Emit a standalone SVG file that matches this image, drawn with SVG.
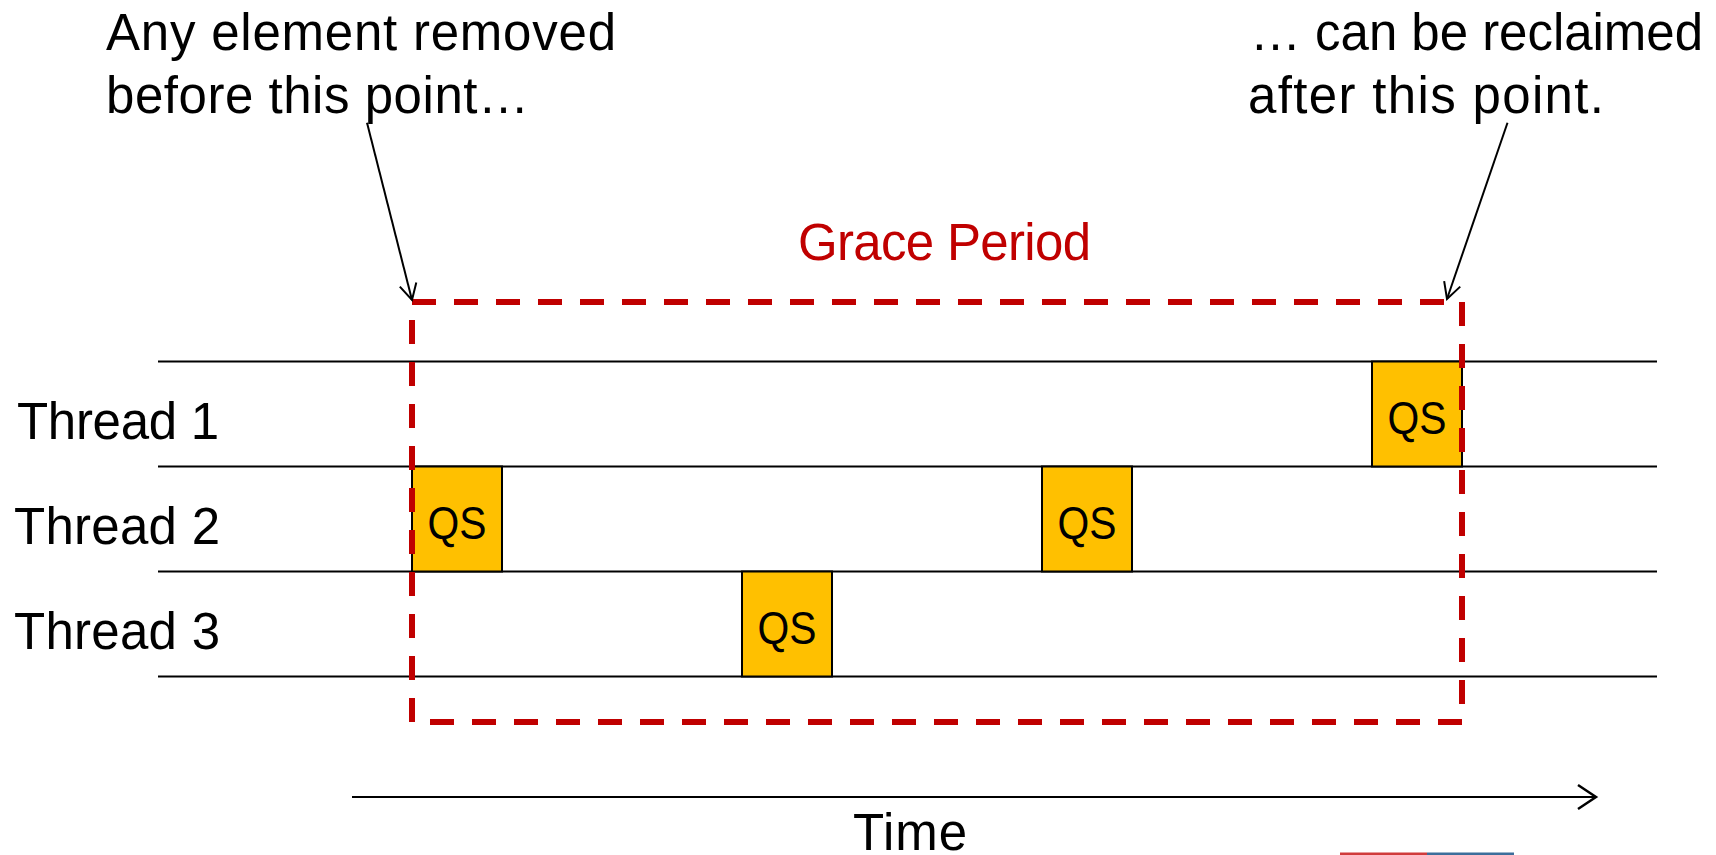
<svg xmlns="http://www.w3.org/2000/svg" width="1716" height="855" viewBox="0 0 1716 855">
  <style>
    .t { font-family: "Liberation Sans", Arial, sans-serif; font-size: 51px; fill: #000; }
    .red { fill: #C00000; }
    .lane { stroke: #000; stroke-width: 2; fill: none; }
    .qs rect { fill: #FFC000; stroke: #000; stroke-width: 2; }
    .qs text { font-family: "Liberation Sans", Arial, sans-serif; font-size: 47px; fill: #000; text-anchor: middle; }
    .conn { stroke: #000; stroke-width: 2; fill: none; }
  </style>
  <defs>
    <marker id="openArrow" markerUnits="userSpaceOnUse" markerWidth="40" markerHeight="40" viewBox="-20 -20 40 40" refX="0" refY="0" orient="auto">
      <path d="M-16,-8.5 L0,0 L-16,8.5" fill="none" stroke="#000" stroke-width="2"/>
    </marker>
    <marker id="timeArrow" markerUnits="userSpaceOnUse" markerWidth="40" markerHeight="40" viewBox="-20 -20 40 40" refX="0" refY="0" orient="auto">
      <path d="M-18,-12 L0,0 L-18,12" fill="none" stroke="#000" stroke-width="2.5"/>
    </marker>
  </defs>
  <rect width="1716" height="855" fill="#fff"/>

  <g id="callout-left">
    <text class="t" x="106" y="50" textLength="510" lengthAdjust="spacing">Any element removed</text>
    <text class="t" x="106" y="113" textLength="423" lengthAdjust="spacing">before this point…</text>
  </g>
  <g id="callout-right">
    <text class="t" x="1250" y="50" textLength="453" lengthAdjust="spacing">… can be reclaimed</text>
    <text class="t" x="1248" y="113" textLength="356" lengthAdjust="spacing">after this point.</text>
  </g>

  <g id="lanes">
    <line class="lane" x1="158" y1="361.5" x2="1657" y2="361.5"/>
    <line class="lane" x1="158" y1="466.5" x2="1657" y2="466.5"/>
    <line class="lane" x1="158" y1="571.5" x2="1657" y2="571.5"/>
    <line class="lane" x1="158" y1="676.5" x2="1657" y2="676.5"/>
  </g>

  <g id="thread-labels">
    <text class="t" x="17" y="439" textLength="202" lengthAdjust="spacing">Thread 1</text>
    <text class="t" x="14" y="544" textLength="206" lengthAdjust="spacing">Thread 2</text>
    <text class="t" x="14" y="649" textLength="206" lengthAdjust="spacing">Thread 3</text>
  </g>

  <g id="qs-t2-a" class="qs">
    <rect x="412" y="466.5" width="90" height="105"/>
    <text x="457" y="538.5" textLength="59" lengthAdjust="spacingAndGlyphs">QS</text>
  </g>
  <g id="qs-t3" class="qs">
    <rect x="742" y="571.5" width="90" height="105"/>
    <text x="787" y="643.5" textLength="59" lengthAdjust="spacingAndGlyphs">QS</text>
  </g>
  <g id="qs-t2-b" class="qs">
    <rect x="1042" y="466.5" width="90" height="105"/>
    <text x="1087" y="538.5" textLength="59" lengthAdjust="spacingAndGlyphs">QS</text>
  </g>
  <g id="qs-t1" class="qs">
    <rect x="1372" y="361.5" width="90" height="105"/>
    <text x="1417" y="433.5" textLength="59" lengthAdjust="spacingAndGlyphs">QS</text>
  </g>

  <g id="grace-period">
    <rect x="412" y="302" width="1050" height="420" fill="none" stroke="#C00000" stroke-width="6" stroke-dasharray="24 18"/>
    <text class="t red" x="798" y="260" textLength="293" lengthAdjust="spacing">Grace Period</text>
  </g>

  <g id="connectors">
    <line class="conn" x1="367" y1="122.7" x2="412" y2="300" marker-end="url(#openArrow)"/>
    <line class="conn" x1="1507.5" y1="122.7" x2="1447" y2="299" marker-end="url(#openArrow)"/>
    <line class="conn" x1="352" y1="797" x2="1596" y2="797" stroke-width="2.5" marker-end="url(#timeArrow)"/>
  </g>

  <g id="time-label">
    <text class="t" x="853" y="850" textLength="114" lengthAdjust="spacing">Time</text>
  </g>

  <g id="footer-strip">
    <rect x="1340" y="852.5" width="87" height="2.5" fill="#D03C3C"/>
    <rect x="1427" y="852.5" width="87" height="2.5" fill="#3C6E9B"/>
  </g>
</svg>
